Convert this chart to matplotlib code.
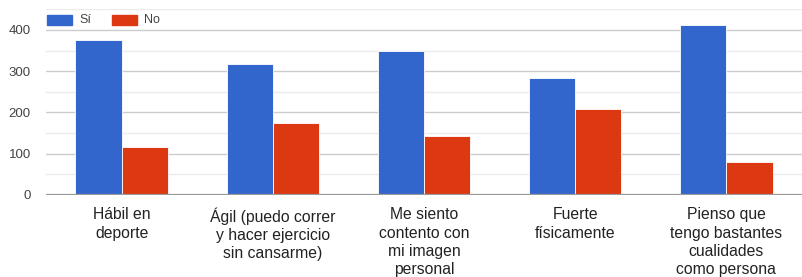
import matplotlib
matplotlib.use("Agg")
import matplotlib.pyplot as plt
import numpy as np
from matplotlib.patches import Rectangle

categories = ["Hábil en\ndeporte",
              "Ágil (puedo correr\ny hacer ejercicio\nsin cansarme)",
              "Me siento\ncontento con\nmi imagen\npersonal",
              "Fuerte\nfísicamente",
              "Pienso que\ntengo bastantes\ncualidades\ncomo persona"]
si_values = [375, 318, 349, 283, 413]
no_values = [116, 173, 142, 209, 80]
series_names = ["Sí", "No"]
yticks = [0, 100, 200, 300, 400]

plt.rcParams['font.family'] = ['Liberation Sans', 'DejaVu Sans']
blue, red = "#3366CC", "#DC3912"

fig = plt.figure(figsize=(8.02, 2.77), dpi=100)
ax = fig.add_axes([46/802, 82.3/277, 1 - 46/802, (194.7 - 9.3)/277])

x = np.arange(len(categories))
w = 0.305
ax.bar(x - w/2, si_values, w, color=blue, edgecolor="white", linewidth=0.6, zorder=3)
ax.bar(x + w/2, no_values, w, color=red, edgecolor="white", linewidth=0.6, zorder=3)

ax.set_xlim(-0.5, len(categories) - 0.5)
ax.set_ylim(0, 450)
ax.set_yticks(yticks)
ax.set_yticks([50, 150, 250, 350, 450], minor=True)
ax.grid(axis='y', which='major', color="#cccccc", linewidth=1.0, zorder=0)
ax.grid(axis='y', which='minor', color="#ebebeb", linewidth=1.0, zorder=0)
ax.axhline(0, color="#999999", linewidth=1.6, zorder=4)
for s in ax.spines.values():
    s.set_visible(False)
ax.tick_params(axis='y', which='both', length=0, labelsize=9.5, labelcolor="#444444", pad=11)
ax.tick_params(axis='x', length=0)
ax.set_xticks(x)
ax.set_xticklabels(categories, fontsize=11.3, color="#222222", linespacing=1.28)
ax.tick_params(axis='x', pad=9)

# legend
for i, (name, col) in enumerate(zip(series_names, [blue, red])):
    x0 = 47 + i * 65
    fig.patches.append(Rectangle((x0/802, 1 - 25/277), 25/802, 10/277,
                                 transform=fig.transFigure, color=col, figure=fig))
    fig.text((x0 + 32)/802, 1 - 20/277, name, fontsize=9, color="#444444",
             va='center', ha='left')

fig.savefig("out.png", dpi=100)
